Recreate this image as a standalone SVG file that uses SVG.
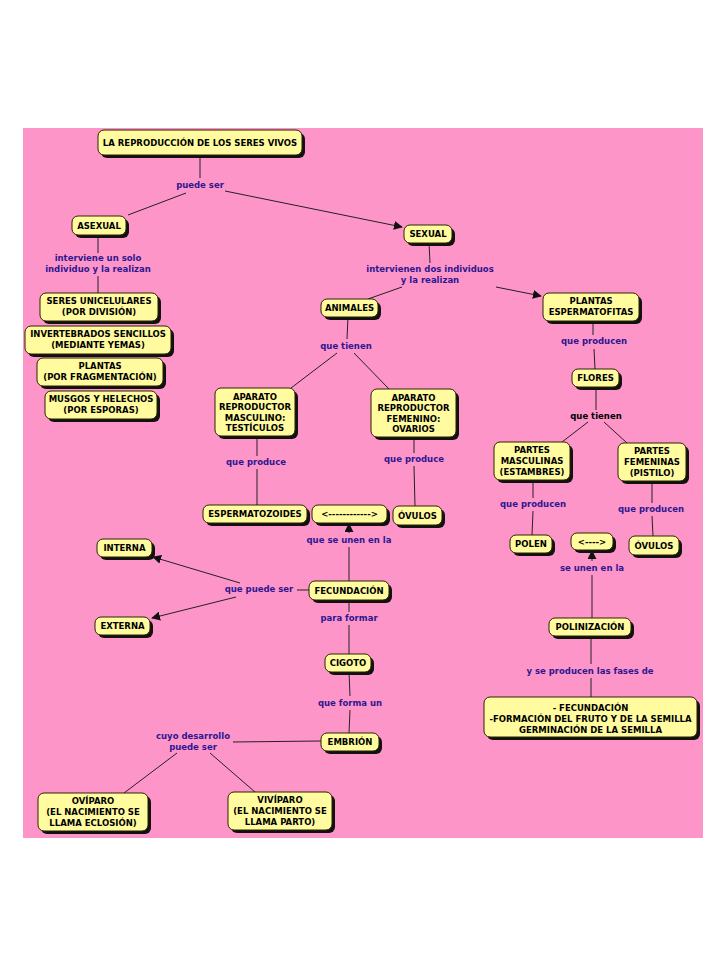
<svg xmlns="http://www.w3.org/2000/svg" width="728" height="968" viewBox="0 0 728 968">
<defs>
<style>
.bg{fill:#FD95C8}
.sh{fill:#111}
.bx{fill:#FFFB9E;stroke:#2a2200;stroke-width:1}
.t{font-family:"DejaVu Sans","Liberation Sans",sans-serif;font-weight:bold;font-size:8.5px;fill:#000;text-anchor:middle}
.l{font-family:"DejaVu Sans","Liberation Sans",sans-serif;font-weight:bold;font-size:8.5px;fill:#2E1790;text-anchor:middle}
.lk{fill:#000}
.c line,.c path{stroke:#222;stroke-width:1;fill:none}
</style>
<marker id="ar" viewBox="0 0 10 10" refX="9" refY="5" markerWidth="9" markerHeight="9" markerUnits="userSpaceOnUse" orient="auto">
<path d="M0,0 L10,5 L0,10 z" fill="#111"/>
</marker>
</defs>
<rect x="0" y="0" width="728" height="968" fill="#fff"/>
<rect class="bg" x="23" y="128" width="680" height="710"/>

<g class="c" id="connectors">
<line x1="200" y1="157" x2="200" y2="178"/>
<line x1="186" y1="193" x2="128" y2="215"/>
<line x1="225" y1="191" x2="402" y2="227" marker-end="url(#ar)"/>
<line x1="98" y1="235" x2="98" y2="253"/>
<line x1="98" y1="276" x2="98" y2="293"/>
<line x1="429" y1="243" x2="430" y2="263"/>
<line x1="402" y1="287" x2="368" y2="299"/>
<line x1="496" y1="287" x2="541" y2="296" marker-end="url(#ar)"/>
<line x1="348" y1="317" x2="347" y2="339"/>
<line x1="337" y1="353" x2="291" y2="388"/>
<line x1="354" y1="353" x2="389" y2="389"/>
<line x1="593" y1="321" x2="593" y2="335"/>
<line x1="594" y1="349" x2="595" y2="369"/>
<line x1="596" y1="387" x2="596" y2="410"/>
<line x1="588" y1="422" x2="562" y2="442"/>
<line x1="604" y1="422" x2="627" y2="443"/>
<line x1="257" y1="436" x2="257" y2="456"/>
<line x1="257" y1="469" x2="257" y2="505"/>
<line x1="414" y1="437" x2="414" y2="453"/>
<line x1="414" y1="466" x2="415" y2="506"/>
<line x1="349" y1="533" x2="349" y2="524" marker-end="url(#ar)"/>
<line x1="349" y1="581" x2="349" y2="547"/>
<line x1="297" y1="590" x2="309" y2="590"/>
<line x1="240" y1="583" x2="153" y2="557" marker-end="url(#ar)"/>
<line x1="236" y1="597" x2="152" y2="618" marker-end="url(#ar)"/>
<line x1="349" y1="600" x2="349" y2="612"/>
<line x1="349" y1="625" x2="349" y2="654"/>
<line x1="349" y1="672" x2="350" y2="696"/>
<line x1="350" y1="710" x2="349" y2="733"/>
<line x1="233" y1="742" x2="321" y2="741"/>
<line x1="177" y1="753" x2="124" y2="793"/>
<line x1="210" y1="753" x2="255" y2="792"/>
<line x1="533" y1="480" x2="533" y2="498"/>
<line x1="533" y1="511" x2="532" y2="535"/>
<line x1="652" y1="481" x2="652" y2="503"/>
<line x1="652" y1="516" x2="653" y2="536"/>
<line x1="592" y1="561" x2="592" y2="551" marker-end="url(#ar)"/>
<line x1="592" y1="618" x2="592" y2="575"/>
<line x1="591" y1="636" x2="591" y2="664"/>
<line x1="591" y1="678" x2="591" y2="697"/>
</g>

<g id="labels">
<text class="l" x="200" y="188">puede ser</text>
<text class="l" x="98" y="261">interviene un solo</text>
<text class="l" x="98" y="272">individuo y la realizan</text>
<text class="l" x="430" y="272">intervienen dos individuos</text>
<text class="l" x="430" y="283">y la realizan</text>
<text class="l" x="346" y="349">que tienen</text>
<text class="l" x="594" y="344">que producen</text>
<text class="l lk" x="596" y="419">que tienen</text>
<text class="l" x="256" y="465">que produce</text>
<text class="l" x="414" y="462">que produce</text>
<text class="l" x="349" y="543">que se unen en la</text>
<text class="l" x="259" y="592">que puede ser</text>
<text class="l" x="349" y="621">para formar</text>
<text class="l" x="350" y="706">que forma un</text>
<text class="l" x="193" y="739">cuyo desarrollo</text>
<text class="l" x="193" y="750">puede ser</text>
<text class="l" x="533" y="507">que producen</text>
<text class="l" x="651" y="512">que producen</text>
<text class="l" x="592" y="571">se unen en la</text>
<text class="l" x="590" y="674">y se producen las fases de</text>
</g>

<g id="n-title"><rect class="sh" x="101" y="133" width="204" height="25" rx="6"/><rect class="bx" x="98" y="130" width="204" height="25" rx="6"/><text class="t" x="200" y="146">LA REPRODUCCIÓN DE LOS SERES VIVOS</text></g>
<g id="n-asexual"><rect class="sh" x="75" y="219" width="54" height="19" rx="6"/><rect class="bx" x="72" y="216" width="54" height="19" rx="6"/><text class="t" x="99" y="229">ASEXUAL</text></g>
<g id="n-sexual"><rect class="sh" x="407" y="228" width="48" height="18" rx="6"/><rect class="bx" x="404" y="225" width="48" height="18" rx="6"/><text class="t" x="428" y="237">SEXUAL</text></g>
<g id="n-unicel"><rect class="sh" x="43" y="296" width="118" height="28" rx="6"/><rect class="bx" x="40" y="293" width="118" height="28" rx="6"/><text class="t" x="99" y="304">SERES UNICELULARES</text><text class="t" x="99" y="315">(POR DIVISIÓN)</text></g>
<g id="n-invert"><rect class="sh" x="28" y="329" width="146" height="28" rx="6"/><rect class="bx" x="25" y="326" width="146" height="28" rx="6"/><text class="t" x="98" y="337">INVERTEBRADOS SENCILLOS</text><text class="t" x="98" y="348">(MEDIANTE YEMAS)</text></g>
<g id="n-plantasfrag"><rect class="sh" x="40" y="361" width="126" height="28" rx="6"/><rect class="bx" x="37" y="358" width="126" height="28" rx="6"/><text class="t" x="100" y="369">PLANTAS</text><text class="t" x="100" y="380">(POR FRAGMENTACIÓN)</text></g>
<g id="n-musgos"><rect class="sh" x="48" y="394" width="112" height="28" rx="6"/><rect class="bx" x="45" y="391" width="112" height="28" rx="6"/><text class="t" x="101" y="402">MUSGOS Y HELECHOS</text><text class="t" x="101" y="413">(POR ESPORAS)</text></g>
<g id="n-animales"><rect class="sh" x="324" y="302" width="57" height="18" rx="6"/><rect class="bx" x="321" y="299" width="57" height="18" rx="6"/><text class="t" x="349.5" y="311">ANIMALES</text></g>
<g id="n-masc"><rect class="sh" x="218" y="391" width="80" height="48" rx="6"/><rect class="bx" x="215" y="388" width="80" height="48" rx="6"/><text class="t" x="255" y="399.5">APARATO</text><text class="t" x="255" y="410">REPRODUCTOR</text><text class="t" x="255" y="420.5">MASCULINO:</text><text class="t" x="255" y="431">TESTÍCULOS</text></g>
<g id="n-fem"><rect class="sh" x="374" y="392" width="85" height="48" rx="6"/><rect class="bx" x="371" y="389" width="85" height="48" rx="6"/><text class="t" x="413.5" y="400.5">APARATO</text><text class="t" x="413.5" y="411">REPRODUCTOR</text><text class="t" x="413.5" y="421.5">FEMENINO:</text><text class="t" x="413.5" y="432">OVARIOS</text></g>
<g id="n-plantasesp"><rect class="sh" x="546" y="296" width="96" height="28" rx="6"/><rect class="bx" x="543" y="293" width="96" height="28" rx="6"/><text class="t" x="591" y="304">PLANTAS</text><text class="t" x="591" y="315">ESPERMATOFITAS</text></g>
<g id="n-flores"><rect class="sh" x="575" y="372" width="47" height="18" rx="6"/><rect class="bx" x="572" y="369" width="47" height="18" rx="6"/><text class="t" x="595.5" y="381">FLORES</text></g>
<g id="n-pmasc"><rect class="sh" x="497" y="445" width="76" height="38" rx="6"/><rect class="bx" x="494" y="442" width="76" height="38" rx="6"/><text class="t" x="532" y="453">PARTES</text><text class="t" x="532" y="464">MASCULINAS</text><text class="t" x="532" y="475">(ESTAMBRES)</text></g>
<g id="n-pfem"><rect class="sh" x="621" y="446" width="68" height="38" rx="6"/><rect class="bx" x="618" y="443" width="68" height="38" rx="6"/><text class="t" x="652" y="454">PARTES</text><text class="t" x="652" y="465">FEMENINAS</text><text class="t" x="652" y="476">(PISTILO)</text></g>
<g id="n-esperm"><rect class="sh" x="206" y="508" width="104" height="18" rx="6"/><rect class="bx" x="203" y="505" width="104" height="18" rx="6"/><text class="t" x="255" y="517">ESPERMATOZOIDES</text></g>
<g id="n-arrow1"><rect class="sh" x="315" y="508" width="75" height="18" rx="6"/><rect class="bx" x="312" y="505" width="75" height="18" rx="6"/><text class="t" x="349.5" y="517">&lt;------------&gt;</text></g>
<g id="n-ovulos1"><rect class="sh" x="396" y="509" width="49" height="19" rx="6"/><rect class="bx" x="393" y="506" width="49" height="19" rx="6"/><text class="t" x="417.5" y="519">ÓVULOS</text></g>
<g id="n-interna"><rect class="sh" x="100" y="542" width="55" height="18" rx="6"/><rect class="bx" x="97" y="539" width="55" height="18" rx="6"/><text class="t" x="124.5" y="551">INTERNA</text></g>
<g id="n-externa"><rect class="sh" x="98" y="620" width="55" height="18" rx="6"/><rect class="bx" x="95" y="617" width="55" height="18" rx="6"/><text class="t" x="122.5" y="629">EXTERNA</text></g>
<g id="n-fecund"><rect class="sh" x="312" y="584" width="80" height="19" rx="6"/><rect class="bx" x="309" y="581" width="80" height="19" rx="6"/><text class="t" x="349" y="594">FECUNDACIÓN</text></g>
<g id="n-cigoto"><rect class="sh" x="328" y="657" width="46" height="18" rx="6"/><rect class="bx" x="325" y="654" width="46" height="18" rx="6"/><text class="t" x="348" y="666">CIGOTO</text></g>
<g id="n-embrion"><rect class="sh" x="324" y="736" width="58" height="18" rx="6"/><rect class="bx" x="321" y="733" width="58" height="18" rx="6"/><text class="t" x="350" y="745">EMBRIÓN</text></g>
<g id="n-oviparo"><rect class="sh" x="41" y="796" width="110" height="38" rx="6"/><rect class="bx" x="38" y="793" width="110" height="38" rx="6"/><text class="t" x="93" y="804">OVÍPARO</text><text class="t" x="93" y="815">(EL NACIMIENTO SE</text><text class="t" x="93" y="826">LLAMA ECLOSIÓN)</text></g>
<g id="n-viviparo"><rect class="sh" x="231" y="795" width="104" height="38" rx="6"/><rect class="bx" x="228" y="792" width="104" height="38" rx="6"/><text class="t" x="280" y="803">VIVÍPARO</text><text class="t" x="280" y="814">(EL NACIMIENTO SE</text><text class="t" x="280" y="825">LLAMA PARTO)</text></g>
<g id="n-polen"><rect class="sh" x="513" y="538" width="42" height="18" rx="6"/><rect class="bx" x="510" y="535" width="42" height="18" rx="6"/><text class="t" x="531" y="547">POLEN</text></g>
<g id="n-arrow2"><rect class="sh" x="574" y="536" width="42" height="17" rx="6"/><rect class="bx" x="571" y="533" width="42" height="17" rx="6"/><text class="t" x="592" y="545">&lt;----&gt;</text></g>
<g id="n-ovulos2"><rect class="sh" x="632" y="539" width="50" height="19" rx="6"/><rect class="bx" x="629" y="536" width="50" height="19" rx="6"/><text class="t" x="654" y="549">ÓVULOS</text></g>
<g id="n-poliniz"><rect class="sh" x="552" y="621" width="82" height="18" rx="6"/><rect class="bx" x="549" y="618" width="82" height="18" rx="6"/><text class="t" x="590" y="630">POLINIZACIÓN</text></g>
<g id="n-fases"><rect class="sh" x="487" y="700" width="213" height="40" rx="6"/><rect class="bx" x="484" y="697" width="213" height="40" rx="6"/><text class="t" x="590.5" y="711">- FECUNDACIÓN</text><text class="t" x="590.5" y="722">-FORMACIÓN DEL FRUTO Y DE LA SEMILLA</text><text class="t" x="590.5" y="733">GERMINACIÓN DE LA SEMILLA</text></g>
</svg>
